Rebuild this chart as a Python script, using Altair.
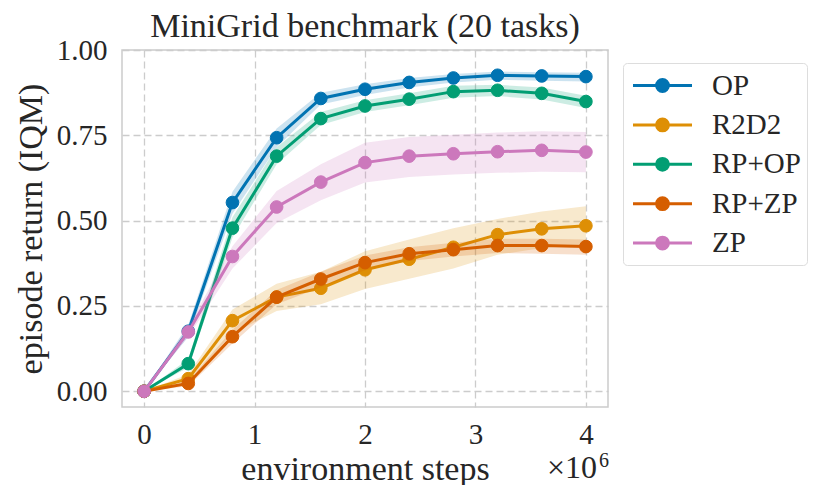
import altair as alt
import pandas as pd

FONT = "Liberation Serif"
TXT = "#262626"

steps = [0, 400000, 800000, 1200000, 1600000, 2000000, 2400000, 2800000, 3200000, 3600000, 4000000]

series_names = ["OP", "R2D2", "RP+OP", "RP+ZP", "ZP"]
series_colors = ["#0173b2", "#de8f05", "#029e73", "#d55e00", "#cc78bc"]

op_mean = [0.0, 0.176, 0.553, 0.743, 0.858, 0.885, 0.905, 0.918, 0.926, 0.924, 0.922]
op_low = [0.0, 0.160, 0.520, 0.715, 0.840, 0.868, 0.890, 0.905, 0.913, 0.910, 0.908]
op_high = [0.0, 0.195, 0.585, 0.770, 0.875, 0.900, 0.918, 0.930, 0.937, 0.935, 0.933]

r2d2_mean = [0.0, 0.037, 0.207, 0.276, 0.302, 0.356, 0.387, 0.422, 0.459, 0.476, 0.485]
r2d2_low = [0.0, 0.025, 0.170, 0.235, 0.255, 0.300, 0.330, 0.360, 0.400, 0.420, 0.430]
r2d2_high = [0.0, 0.050, 0.240, 0.315, 0.350, 0.410, 0.445, 0.478, 0.505, 0.527, 0.542]

rpop_mean = [0.0, 0.081, 0.478, 0.689, 0.799, 0.836, 0.856, 0.878, 0.882, 0.873, 0.849]
rpop_low = [0.0, 0.070, 0.450, 0.665, 0.780, 0.818, 0.838, 0.860, 0.865, 0.855, 0.830]
rpop_high = [0.0, 0.095, 0.510, 0.715, 0.818, 0.853, 0.873, 0.895, 0.898, 0.890, 0.866]

rpzp_mean = [0.0, 0.023, 0.160, 0.276, 0.329, 0.377, 0.403, 0.415, 0.427, 0.427, 0.424]
rpzp_low = [0.0, 0.015, 0.140, 0.255, 0.305, 0.355, 0.382, 0.395, 0.405, 0.403, 0.400]
rpzp_high = [0.0, 0.030, 0.180, 0.297, 0.350, 0.398, 0.422, 0.435, 0.447, 0.447, 0.445]

zp_mean = [0.0, 0.174, 0.395, 0.540, 0.613, 0.670, 0.689, 0.696, 0.702, 0.706, 0.701]
zp_low = [0.0, 0.160, 0.360, 0.493, 0.560, 0.612, 0.628, 0.635, 0.640, 0.643, 0.642]
zp_high = [0.0, 0.190, 0.425, 0.587, 0.665, 0.728, 0.745, 0.752, 0.758, 0.762, 0.760]

x_ticks = [0, 1000000, 2000000, 3000000, 4000000]
y_ticks = [0.0, 0.25, 0.5, 0.75, 1.0]

title_text = ["MiniGrid benchmark (20 tasks)"]
mult_text = ["\u00d710"]
exp_text = ["6"]

all_series = [
    (op_mean, op_low, op_high),
    (r2d2_mean, r2d2_low, r2d2_high),
    (rpop_mean, rpop_low, rpop_high),
    (rpzp_mean, rpzp_low, rpzp_high),
    (zp_mean, zp_low, zp_high),
]

rows = []
for name, (m, lo, hi) in zip(series_names, all_series):
    for s, a, b, c in zip(steps, m, lo, hi):
        rows.append({"step": s, "series": name, "mean": a, "low": b, "high": c})
df = pd.DataFrame(rows)

xscale = alt.Scale(domain=[-200000, 4200000], nice=False, zero=False)
yscale = alt.Scale(domain=[-0.046, 1.0], nice=False, zero=False)

x_axis = alt.Axis(values=x_ticks, labelExpr="format(datum.value / 1000000, 'd')",
                  title="environment steps", ticks=False, domain=False,
                  labelFlush=False, labelOverlap=False, labelPadding=13, titlePadding=3)
y_axis = alt.Axis(values=y_ticks, format=".2f", title="episode return (IQM)",
                  ticks=False, domain=False, labelFlush=False, labelOverlap=False,
                  labelPadding=15, titlePadding=8)

X = alt.X("step:Q", scale=xscale, axis=x_axis)

cscale = alt.Scale(domain=series_names, range=series_colors)
legend = alt.Legend(
    title=None, orient="none", legendX=501, legendY=13,
    padding=6, cornerRadius=4, fillColor="rgba(255,255,255,0.85)", strokeColor="#dddddd",
    labelFont=FONT, labelFontSize=29, labelColor=TXT,
    symbolType="M-2,0L2,0M-0.4,0A0.4,0.4,0,1,1,0.4,0A0.4,0.4,0,1,1,-0.4,0Z",
    symbolSize=870, symbolStrokeWidth=3, symbolOpacity=1,
    symbolOffset=17, labelOffset=33, rowPadding=7.4,
    labelExpr="datum.label + '\u00a0\u00a0\u00a0\u00a0\u00a0\u00a0\u00a0\u00a0'",
)

base = alt.Chart(df)
layers = []
for name, color in zip(series_names, series_colors):
    sub = base.transform_filter(alt.datum.series == name)
    band = sub.mark_area(opacity=0.2, color=color).encode(
        x=X, y=alt.Y("low:Q", scale=yscale, axis=y_axis), y2="high:Q")
    line = sub.mark_line(strokeWidth=3, color=color).encode(
        x=X, y=alt.Y("mean:Q", scale=yscale, axis=y_axis))
    pts = sub.mark_circle(size=160, opacity=1, strokeWidth=1).encode(
        x=X, y=alt.Y("mean:Q", scale=yscale, axis=y_axis),
        color=alt.Color("series:N", scale=cscale, legend=legend),
        stroke=alt.Stroke("series:N", scale=cscale, legend=legend))
    layers += [band, line, pts]

title = alt.Chart(pd.DataFrame({"t": title_text})).mark_text(
    font=FONT, fontSize=34, color=TXT, align="center", baseline="alphabetic"
).encode(x=alt.value(243), y=alt.value(-13), text="t:N")
mult = alt.Chart(pd.DataFrame({"t": mult_text})).mark_text(
    font=FONT, fontSize=32, color=TXT, align="left", baseline="alphabetic"
).encode(x=alt.value(425), y=alt.value(428), text="t:N")
exp6 = alt.Chart(pd.DataFrame({"t": exp_text})).mark_text(
    font=FONT, fontSize=20, color=TXT, align="left", baseline="alphabetic"
).encode(x=alt.value(477), y=alt.value(417), text="t:N")

chart = alt.layer(*layers, title, mult, exp6).properties(
    width=486, height=357,
    autosize=alt.AutoSizeParams(type="none"),
    padding={"left": 114, "top": 42, "right": 206, "bottom": 78},
).configure_axis(
    labelFont=FONT, titleFont=FONT, labelFontSize=29, titleFontSize=34,
    labelColor=TXT, titleColor=TXT, titleFontWeight="normal",
    gridColor="#cccccc", gridDash=[7, 4], gridWidth=1.3,
).configure_view(stroke="#cccccc", strokeWidth=1.5)

chart.save("out.html", embed_options={"renderer": "svg", "actions": False})
